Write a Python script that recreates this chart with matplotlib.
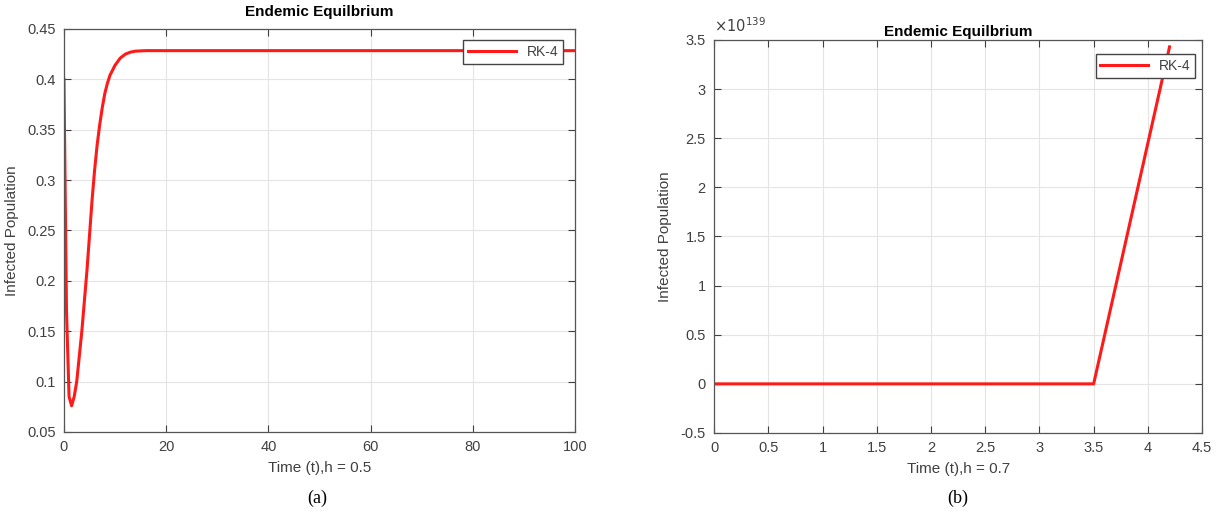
import matplotlib
matplotlib.use("Agg")
import matplotlib.pyplot as plt
from matplotlib.ticker import FuncFormatter

# panel (a): RK-4, h = 0.5
t_a = [0, 0.5, 1.0, 1.5, 2.0, 2.5, 3.0, 3.5, 4.0, 4.5, 5.0, 5.5, 6.0, 6.5, 7.0,
       7.5, 8.0, 8.5, 9.0, 10, 11, 12, 13, 14, 16, 20, 100]
infected_a = [0.4, 0.17, 0.085, 0.076, 0.085, 0.1, 0.125, 0.15, 0.18, 0.21, 0.245,
              0.28, 0.31, 0.335, 0.355, 0.372, 0.386, 0.396, 0.404, 0.414, 0.421,
              0.425, 0.427, 0.428, 0.4285, 0.4285, 0.4285]

# panel (b): RK-4, h = 0.7
t_b = [0, 0.7, 1.4, 2.1, 2.8, 3.5, 4.2]
infected_b = [0, 0, 0, 0, 0, 0, 3.43e139]

title = "Endemic Equilbrium"
ylabel = "Infected Population"
xlabel_a = "Time (t),h = 0.5"
xlabel_b = "Time (t),h = 0.7"

plt.rcParams["font.family"] = ["Liberation Sans", "DejaVu Sans"]
txt = "#404040"
red = "#ff1a1a"

fig = plt.figure(figsize=(12.25, 5.29), dpi=100)
ax1 = fig.add_axes([0.0522, 0.1834, 0.4171, 0.7618])
ax2 = fig.add_axes([0.5829, 0.1815, 0.3984, 0.7429])

fmt = FuncFormatter(lambda v, p: "%g" % round(v, 6))


def style(ax):
    ax.grid(True, color="#e4e4e4", linewidth=0.8)
    ax.set_axisbelow(True)
    ax.tick_params(direction="in", length=5, width=0.8, top=True, right=True,
                   labelsize=10.5, colors=txt, pad=6)
    for s in ax.spines.values():
        s.set_color("#555555")
        s.set_linewidth(0.9)


def add_legend(ax, anchor):
    leg = ax.legend(loc="upper right", bbox_to_anchor=anchor, fancybox=False,
                    edgecolor="#444444", fontsize=10, handlelength=3.4,
                    borderpad=0.35, borderaxespad=0, framealpha=1)
    leg.get_frame().set_linewidth(1.0)
    for t in leg.get_texts():
        t.set_color(txt)


ax1.plot(t_a, infected_a, color=red, linewidth=2.2, label="RK-4")
ax1.set_xlim(0, 100)
ax1.set_ylim(0.05, 0.45)
ax1.set_xticks([0, 20, 40, 60, 80, 100])
ax1.set_yticks([0.05, 0.1, 0.15, 0.2, 0.25, 0.3, 0.35, 0.4, 0.45])
ax1.xaxis.set_major_formatter(fmt)
ax1.yaxis.set_major_formatter(fmt)
style(ax1)
ax1.set_title(title, fontsize=11, fontweight="bold", pad=9)
ax1.set_xlabel(xlabel_a, fontsize=11, color=txt, labelpad=5)
ax1.set_ylabel(ylabel, fontsize=11, color=txt, labelpad=6)
add_legend(ax1, (0.977, 0.973))

ax2.plot(t_b, infected_b, color=red, linewidth=2.2, label="RK-4")
ax2.set_xlim(0, 4.5)
ax2.set_ylim(-0.5e139, 3.5e139)
ax2.set_xticks([0, 0.5, 1, 1.5, 2, 2.5, 3, 3.5, 4, 4.5])
ax2.set_yticks([v * 1e139 for v in [-0.5, 0, 0.5, 1, 1.5, 2, 2.5, 3, 3.5]])
ax2.xaxis.set_major_formatter(fmt)
ax2.yaxis.set_major_formatter(FuncFormatter(lambda v, p: "%g" % round(v / 1e139, 6)))
style(ax2)
ax2.set_title(title, fontsize=11, fontweight="bold", pad=3)
ax2.set_xlabel(xlabel_b, fontsize=11, color=txt, labelpad=5)
ax2.set_ylabel(ylabel, fontsize=11, color=txt, labelpad=6)
ax2.text(0.0, 1.012, r"$\times10^{139}$", transform=ax2.transAxes, fontsize=10.5,
         color=txt, ha="left", va="bottom")
add_legend(ax2, (0.986, 0.964))

fig.text(0.2588, 0.058, "(a)", family="Liberation Serif", fontsize=13, ha="center", va="center")
fig.text(0.782, 0.058, "(b)", family="Liberation Serif", fontsize=13, ha="center", va="center")

fig.savefig("out.png", dpi=100)
